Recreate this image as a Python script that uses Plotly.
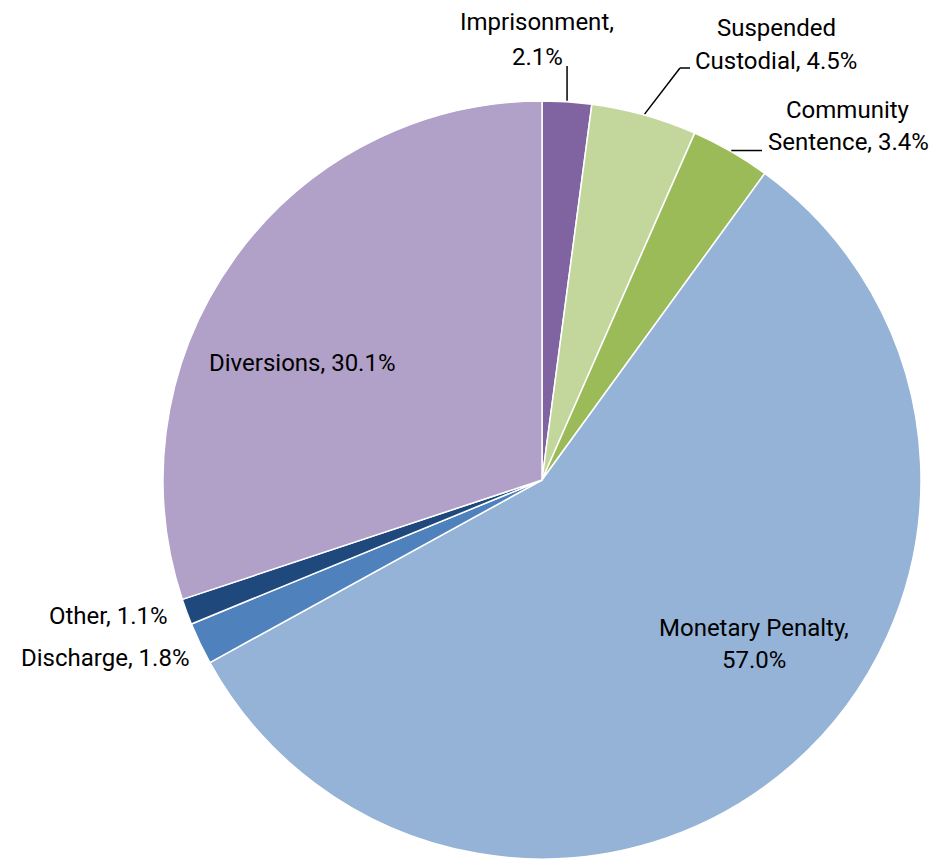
import math
import plotly.graph_objects as go

categories = ["Imprisonment", "Suspended Custodial", "Community Sentence",
              "Monetary Penalty", "Discharge", "Other", "Diversions"]
shares = [2.1, 4.5, 3.4, 57.0, 1.8, 1.1, 30.1]
colors = ["#8064A2", "#C3D69B", "#9BBB59", "#95B3D7", "#4F81BD", "#1F497D", "#B1A0C7"]

W, H = 938, 859
CX, R = 542, 379
CY = H - R

fig = go.Figure(go.Pie(
    labels=categories, values=shares, sort=False, direction="clockwise", rotation=0,
    marker=dict(colors=colors, line=dict(color="white", width=1.5)),
    textinfo="none", hoverinfo="label+percent", showlegend=False,
    domain=dict(x=[(CX - R) / W, (CX + R) / W], y=[0, 2 * R / H]),
))

def px(x):
    return x / W

def py(y):
    return 1 - y / H

# mid angles (degrees clockwise from 12 o'clock), from the data
total = sum(shares)
mids = []
acc = 0
for v in shares:
    mids.append((acc + v / 2) / total * 360)
    acc += v

def edge(i, extra=0):
    a = math.radians(mids[i])
    return CX + (R + extra) * math.sin(a), CY - (R + extra) * math.cos(a)

font = dict(family="Roboto, Lato, sans-serif", size=24, color="#000000")

def label(lines, x, y0, gap, anchor="center"):
    for k, t in enumerate(lines):
        fig.add_annotation(text=t, x=px(x), y=py(y0 + k * gap), xref="paper", yref="paper",
                           showarrow=False, xanchor=anchor, yanchor="middle", font=font)

# labels
label(["Imprisonment,", "2.1%"], 537, 22, 35)
label(["Suspended", "Custodial, 4.5%"], 776, 28, 33)
label(["Community", "Sentence, 3.4%"], 848, 110, 32)
label(["Other, 1.1%"], 170, 616, 0, "right")
label(["Discharge, 1.8%"], 191, 658, 0, "right")
label(["Diversions, 30.1%"], 302, 363, 0)
label(["Monetary Penalty,", "57.0%"], 754, 628, 32)

# leader lines
def seg(x0, y0, x1, y1):
    fig.add_shape(type="line", xref="paper", yref="paper", x0=px(x0), y0=py(y0),
                  x1=px(x1), y1=py(y1), line=dict(color="black", width=1.5))

ex, ey = edge(0, 1)
seg(ex, ey, ex, 66)
ex, ey = edge(1, 1)
seg(ex, ey, 680, 68)
seg(680, 68, 690, 68)
ex, ey = edge(2, 1)
seg(ex, ey, 762, ey)

fig.update_layout(width=W, height=H, margin=dict(l=0, r=0, t=0, b=0),
                  paper_bgcolor="white", plot_bgcolor="white")
fig.write_html("out.html", config={"displayModeBar": False},
               post_script="document.body.style.margin='0';")
